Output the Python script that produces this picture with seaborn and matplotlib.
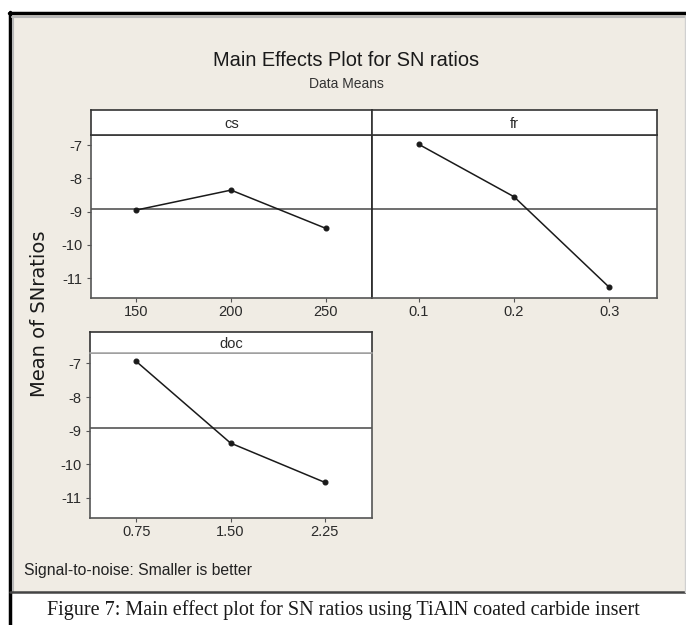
import numpy as np
import pandas as pd
import matplotlib
matplotlib.use('Agg')
import matplotlib.pyplot as plt
from matplotlib.patches import Rectangle
from matplotlib.lines import Line2D
import seaborn as sns

# Main effects data
cs_levels = ['150', '200', '250']
cs_sn = [-8.95, -8.35, -9.50]
fr_levels = ['0.1', '0.2', '0.3']
fr_sn = [-6.97, -8.55, -11.28]
doc_levels = ['0.75', '1.50', '2.25']
doc_sn = [-6.94, -9.37, -10.54]
grand_mean = -8.93
y_ticks = [-7, -8, -9, -10, -11]

sns.set_style('white')
plt.rcParams['font.family'] = ['Liberation Sans', 'DejaVu Sans']
plt.rcParams['axes.unicode_minus'] = False

W, H = 686, 625
fig = plt.figure(figsize=(W / 100, H / 100), dpi=100)
fig.patch.set_facecolor('white')


def rect(x0, y0, x1, y1):
    return [x0 / W, 1 - y1 / H, (x1 - x0) / W, (y1 - y0) / H]


def px(x, y):
    return x / W, 1 - y / H


# beige Minitab window
fig.add_artist(Rectangle(px(10, 592), (686 - 10) / W, (592 - 13) / H,
                         transform=fig.transFigure, facecolor='#f0ece4', edgecolor='none', zorder=0))
fig.add_artist(Line2D([9 / W, 1], [1 - 13 / H] * 2, color='black', lw=2.5))
fig.add_artist(Line2D([10 / W] * 2, [1 - 12 / H, 0], color='black', lw=2.5))
fig.add_artist(Line2D([12 / W, 1], [1 - 16.5 / H] * 2, color='#b8b8b8', lw=1.5))
fig.add_artist(Line2D([13 / W] * 2, [1 - 16 / H, 1 - 592 / H], color='#b8b8b8', lw=1.5))
fig.add_artist(Line2D([10 / W, 1], [1 - 592 / H] * 2, color='#444444', lw=1.8))
fig.add_artist(Line2D([684.5 / W] * 2, [1 - 16 / H, 1 - 592 / H], color='#d0d0d0', lw=1))

panels = [
    ('cs', cs_levels, cs_sn, (91, 135, 372, 298), (91, 110, 372, 135), (-0.48, 2.49), True),
    ('fr', fr_levels, fr_sn, (372, 135, 657, 298), (372, 110, 657, 135), (-0.49, 2.5), False),
    ('doc', doc_levels, doc_sn, (90, 353, 372, 518), (90, 332, 372, 353), (-0.49, 2.5), True),
]

for name, levels, vals, box, sbox, xl, show_y in panels:
    ax = fig.add_axes(rect(*box))
    df = pd.DataFrame({'level': levels, 'sn': vals})
    sns.pointplot(data=df, x='level', y='sn', order=levels, color='#1a1a1a',
                  markers='o', markersize=3.5, linewidth=1.1, ax=ax)
    ax.axhline(grand_mean, color='#555555', lw=1.2, zorder=1)
    ax.set_xlim(*xl)
    ax.set_ylim(-11.6, -6.69)
    ax.set_yticks(y_ticks)
    ax.set_xlabel('')
    ax.set_ylabel('')
    ax.set_facecolor('white')
    for s in ax.spines.values():
        s.set_color('#555555')
        s.set_linewidth(1.2)
    ax.tick_params(axis='both', direction='out', length=3, width=0.8, color='#555555',
                   labelsize=10.5, labelcolor='#2a2a2a', pad=2)
    ax.tick_params(axis='y', pad=3)
    ax.tick_params(left=show_y, labelleft=show_y, bottom=True)
    if name == 'fr':
        ax.spines['left'].set_color('#222222')

    sax = fig.add_axes(rect(*sbox))
    sax.set_facecolor('white')
    sax.set_xticks([])
    sax.set_yticks([])
    for s in sax.spines.values():
        s.set_color('#333333')
        s.set_linewidth(1.2)
    if name == 'doc':
        sax.spines['bottom'].set_color('#aaaaaa')
    sax.text(0.5, 0.45, name, ha='center', va='center', fontsize=10.5, color='#2a2a2a',
             transform=sax.transAxes)

fig.text(*px(346, 60), 'Main Effects Plot for SN ratios', ha='center', va='center',
         fontsize=14.4, color='#1a1a1a')
fig.text(*px(346, 84), 'Data Means', ha='center', va='center', fontsize=10, color='#333333')
fig.text(*px(40, 314), 'Mean of SNratios', ha='center', va='center', rotation=90,
         fontsize=14, color='#1a1a1a', family='DejaVu Sans')
fig.text(*px(24, 571), 'Signal-to-noise: Smaller is better', ha='left', va='center',
         fontsize=11.3, color='#222222')
fig.text(*px(343, 610), 'Figure 7: Main effect plot for SN ratios using TiAlN coated carbide insert',
         ha='center', va='center', fontsize=14.5, color='#1a1a1a', family='Liberation Serif')

fig.savefig('out.png', dpi=100, facecolor='white')
